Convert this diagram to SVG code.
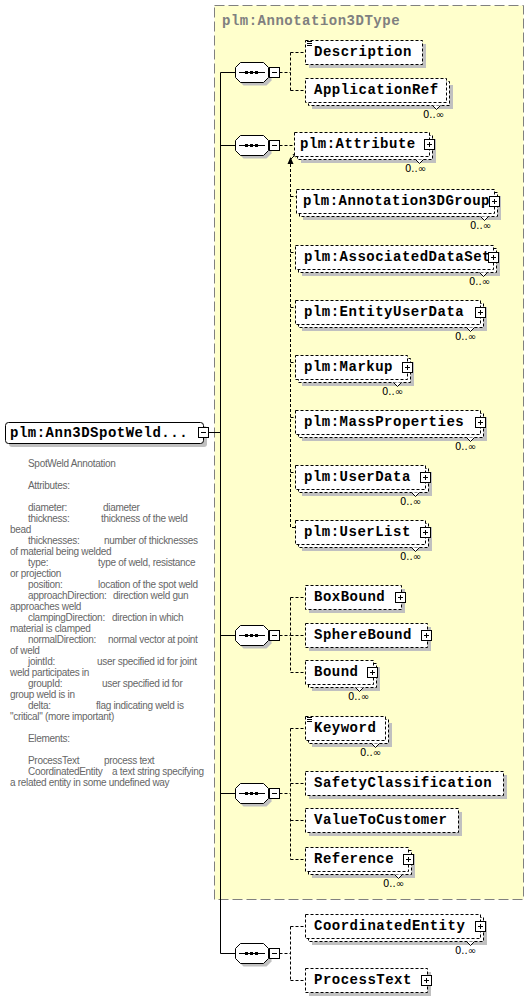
<svg xmlns="http://www.w3.org/2000/svg" xmlns:xlink="http://www.w3.org/1999/xlink" width="530" height="999" viewBox="0 0 530 999">
<style>
.bx{fill:#fff;stroke:#000;stroke-width:1;stroke-dasharray:3,2}
.sh{fill:#c0c0c0}
.dc{fill:none;stroke:#000;stroke-width:1;stroke-dasharray:3,2}
.sl{fill:none;stroke:#000;stroke-width:1}
.lbl{font-family:"Liberation Mono","DejaVu Sans Mono",monospace;font-weight:bold;font-size:14px;letter-spacing:0.5px;fill:#000}
.ttl{font-family:"Liberation Mono","DejaVu Sans Mono",monospace;font-weight:bold;font-size:14px;letter-spacing:0.5px;fill:#808080}
.occ{font-family:"DejaVu Sans","Liberation Sans",sans-serif;font-size:10px;fill:#000;text-anchor:end}
.ann{font-family:"Liberation Sans",Arial,sans-serif;font-size:10px;fill:#666;letter-spacing:-0.3px}
.notch{fill:#fff;stroke:#000;stroke-width:1}
</style>
<defs>
<g id="plus"><rect x="-4.5" y="-4.5" width="10" height="10" fill="#fff" stroke="#000"/><path d="M-2,0.5H3M0.5,-2V3" stroke="#000" fill="none"/></g>
<g id="minus"><rect x="-4.5" y="-4.5" width="10" height="10" fill="#fff" stroke="#000"/><path d="M-2,0.5H3" stroke="#000" fill="none"/></g>
<g id="seq">
<path d="M243.5,-6.5H266.5L271.5,-1.5V8.5L266.5,13.5H243.5L238.5,8.5V-1.5Z" class="sh"/>
<path d="M240.5,-9.5H263.5L268.5,-4.5V5.5L263.5,10.5H240.5L235.5,5.5V-4.5Z" fill="#fff" stroke="#000"/>
<path d="M239,0.5H265" stroke="#000"/>
<rect x="245" y="-1" width="3" height="3" fill="#000"/>
<rect x="250" y="-1" width="3" height="3" fill="#000"/>
<rect x="255" y="-1" width="3" height="3" fill="#000"/>
<use xlink:href="#minus" x="274" y="0"/>
</g>
<g id="doc"><path d="M307,41.5H312M307,43.5H312M307,45.5H312" stroke="#000" fill="none"/></g>
</defs>

<g id="complexType">
<rect x="214.5" y="5.5" width="309" height="894" fill="#FFFFCC" stroke="#808080" stroke-dasharray="10,4"/>
<text class="ttl" x="222" y="25">plm:Annotation3DType</text>
</g>

<g id="connectors">
<path class="sl" d="M208.5,432.5H220.5M220.5,72.5V953.5M220.5,72.5H235.5M220.5,145.5H235.5M220.5,635.5H235.5M220.5,793.5H235.5M220.5,953.5H235.5"/>
<path class="dc" d="M279.5,72.5H290.5M290.5,52.5V90.5M290.5,52.5H305.5M290.5,90.5H305.5"/>
<path class="dc" d="M279.5,145.5H294.5"/>
<path class="dc" d="M290.5,164V527.5H295.5M290.5,196.5H296.5M290.5,252.5H295.5M290.5,307.5H295.5M290.5,362.5H295.5M290.5,417.5H295.5M290.5,472.5H295.5"/>
<polygon points="290.5,157 287.5,164 293.5,164" fill="#000"/>
<path d="M291,159L295,155" stroke="#000" fill="none"/>
<polygon points="297,153 292.5,154.5 295.5,157.5" fill="#000"/>
<path class="dc" d="M279.5,635.5H290.5M290.5,597.5V672.5M290.5,597.5H305.5M290.5,635.5H305.5M290.5,672.5H305.5"/>
<path class="dc" d="M279.5,793.5H290.5M290.5,728.5V859.5M290.5,728.5H305.5M290.5,783.5H305.5M290.5,820.5H305.5M290.5,859.5H305.5"/>
<path class="dc" d="M279.5,953.5H290.5M290.5,926.5V980.5M290.5,926.5H305.5M290.5,980.5H305.5"/>
</g>

<g id="seq1"><use xlink:href="#seq" transform="translate(0,72)"/></g>
<g id="seq2"><use xlink:href="#seq" transform="translate(0,145)"/></g>
<g id="seq3"><use xlink:href="#seq" transform="translate(0,635)"/></g>
<g id="seq4"><use xlink:href="#seq" transform="translate(0,793)"/></g>
<g id="seq5"><use xlink:href="#seq" transform="translate(0,953)"/></g>

<g id="root">
<rect class="sh" x="9" y="426" width="198" height="21" rx="3"/>
<rect x="5.5" y="422.5" width="198" height="21" rx="3" fill="#fff" stroke="#000"/>
<text class="lbl" x="10" y="437">plm:Ann3DSpotWeld...</text>
<use xlink:href="#minus" x="203" y="432"/>
</g>

<g id="description">
<rect class="sh" x="309" y="44" width="117" height="24"/>
<rect class="bx" x="305.5" y="40.5" width="117" height="24"/>
<use xlink:href="#doc"/>
<text class="lbl" x="314" y="56">Description</text>
</g>

<g id="applicationRef">
<rect class="sh" x="312" y="85" width="141" height="24"/>
<rect class="bx" x="308.5" y="81.5" width="141" height="24"/>
<rect class="bx" x="305.5" y="78.5" width="141" height="24"/>
<polyline class="notch" points="432.5,105.5 436.5,109.5 440.5,105.5"/>
<text class="occ" x="444" y="118">0..∞</text>
<text class="lbl" x="314" y="94">ApplicationRef</text>
</g>

<g id="attribute">
<rect class="sh" x="301" y="139" width="135" height="24"/>
<rect class="bx" x="297.5" y="135.5" width="135" height="24"/>
<rect class="bx" x="294.5" y="132.5" width="135" height="24"/>
<polyline class="notch" points="415.5,159.5 419.5,163.5 423.5,159.5"/>
<text class="occ" x="426" y="172">0..∞</text>
<text class="lbl" x="300" y="148">plm:Attribute</text>
<use xlink:href="#plus" x="429" y="144"/>
</g>

<g id="annotation3DGroup">
<rect class="sh" x="303" y="196" width="198" height="24"/>
<rect class="bx" x="299.5" y="192.5" width="198" height="24"/>
<rect class="bx" x="296.5" y="189.5" width="198" height="24"/>
<polyline class="notch" points="480.5,216.5 484.5,220.5 488.5,216.5"/>
<text class="occ" x="491" y="229">0..∞</text>
<text class="lbl" x="303" y="205">plm:Annotation3DGroup</text>
<use xlink:href="#plus" x="494" y="201"/>
</g>

<g id="associatedDataSet">
<rect class="sh" x="302" y="252" width="198" height="24"/>
<rect class="bx" x="298.5" y="248.5" width="198" height="24"/>
<rect class="bx" x="295.5" y="245.5" width="198" height="24"/>
<polyline class="notch" points="479.5,272.5 483.5,276.5 487.5,272.5"/>
<text class="occ" x="490" y="285">0..∞</text>
<text class="lbl" x="304" y="261">plm:AssociatedDataSet</text>
<use xlink:href="#plus" x="493" y="257"/>
</g>

<g id="entityUserData">
<rect class="sh" x="302" y="307" width="185" height="24"/>
<rect class="bx" x="298.5" y="303.5" width="185" height="24"/>
<rect class="bx" x="295.5" y="300.5" width="185" height="24"/>
<polyline class="notch" points="466.5,327.5 470.5,331.5 474.5,327.5"/>
<text class="occ" x="476" y="340">0..∞</text>
<text class="lbl" x="304" y="316">plm:EntityUserData</text>
<use xlink:href="#plus" x="480" y="312"/>
</g>

<g id="markup">
<rect class="sh" x="302" y="362" width="112" height="24"/>
<rect class="bx" x="298.5" y="358.5" width="112" height="24"/>
<rect class="bx" x="295.5" y="355.5" width="112" height="24"/>
<polyline class="notch" points="393.5,382.5 397.5,386.5 401.5,382.5"/>
<text class="occ" x="403" y="395">0..∞</text>
<text class="lbl" x="304" y="371">plm:Markup</text>
<use xlink:href="#plus" x="407" y="367"/>
</g>

<g id="massProperties">
<rect class="sh" x="302" y="417" width="185" height="24"/>
<rect class="bx" x="298.5" y="413.5" width="185" height="24"/>
<rect class="bx" x="295.5" y="410.5" width="185" height="24"/>
<polyline class="notch" points="466.5,437.5 470.5,441.5 474.5,437.5"/>
<text class="occ" x="476" y="450">0..∞</text>
<text class="lbl" x="304" y="426">plm:MassProperties</text>
<use xlink:href="#plus" x="480" y="422"/>
</g>

<g id="userData">
<rect class="sh" x="302" y="472" width="130" height="24"/>
<rect class="bx" x="298.5" y="468.5" width="130" height="24"/>
<rect class="bx" x="295.5" y="465.5" width="130" height="24"/>
<polyline class="notch" points="411.5,492.5 415.5,496.5 419.5,492.5"/>
<text class="occ" x="421" y="505">0..∞</text>
<text class="lbl" x="304" y="481">plm:UserData</text>
<use xlink:href="#plus" x="425" y="477"/>
</g>

<g id="userList">
<rect class="sh" x="302" y="527" width="130" height="24"/>
<rect class="bx" x="298.5" y="523.5" width="130" height="24"/>
<rect class="bx" x="295.5" y="520.5" width="130" height="24"/>
<polyline class="notch" points="411.5,547.5 415.5,551.5 419.5,547.5"/>
<text class="occ" x="421" y="560">0..∞</text>
<text class="lbl" x="304" y="536">plm:UserList</text>
<use xlink:href="#plus" x="425" y="532"/>
</g>

<g id="boxBound">
<rect class="sh" x="309" y="589" width="96" height="24"/>
<rect class="bx" x="305.5" y="585.5" width="96" height="24"/>
<text class="lbl" x="314" y="601">BoxBound</text>
<use xlink:href="#plus" x="400" y="597"/>
</g>

<g id="sphereBound">
<rect class="sh" x="309" y="627" width="122" height="24"/>
<rect class="bx" x="305.5" y="623.5" width="122" height="24"/>
<text class="lbl" x="314" y="639">SphereBound</text>
<use xlink:href="#plus" x="426" y="635"/>
</g>

<g id="bound">
<rect class="sh" x="312" y="667" width="68" height="24"/>
<rect class="bx" x="308.5" y="663.5" width="68" height="24"/>
<rect class="bx" x="305.5" y="660.5" width="68" height="24"/>
<polyline class="notch" points="355.5,687.5 359.5,691.5 363.5,687.5"/>
<text class="occ" x="369" y="700">0..∞</text>
<text class="lbl" x="314" y="676">Bound</text>
<use xlink:href="#plus" x="372" y="672"/>
</g>

<g id="keyword">
<rect class="sh" x="312" y="723" width="80" height="24"/>
<rect class="bx" x="308.5" y="719.5" width="80" height="24"/>
<rect class="bx" x="305.5" y="716.5" width="80" height="24"/>
<polyline class="notch" points="371.5,743.5 375.5,747.5 379.5,743.5"/>
<text class="occ" x="381" y="756">0..∞</text>
<use xlink:href="#doc" transform="translate(0,676)"/>
<text class="lbl" x="314" y="732">Keyword</text>
</g>

<g id="safetyClassification">
<rect class="sh" x="309" y="775" width="198" height="24"/>
<rect class="bx" x="305.5" y="771.5" width="198" height="24"/>
<text class="lbl" x="314" y="787">SafetyClassification</text>
</g>

<g id="valueToCustomer">
<rect class="sh" x="309" y="812" width="153" height="24"/>
<rect class="bx" x="305.5" y="808.5" width="153" height="24"/>
<text class="lbl" x="314" y="824">ValueToCustomer</text>
</g>

<g id="reference">
<rect class="sh" x="312" y="854" width="103" height="24"/>
<rect class="bx" x="308.5" y="850.5" width="103" height="24"/>
<rect class="bx" x="305.5" y="847.5" width="103" height="24"/>
<polyline class="notch" points="394.5,874.5 398.5,878.5 402.5,874.5"/>
<text class="occ" x="404" y="887">0..∞</text>
<text class="lbl" x="314" y="863">Reference</text>
<use xlink:href="#plus" x="408" y="859"/>
</g>

<g id="coordinatedEntity">
<rect class="sh" x="312" y="921" width="175" height="24"/>
<rect class="bx" x="308.5" y="917.5" width="175" height="24"/>
<rect class="bx" x="305.5" y="914.5" width="175" height="24"/>
<polyline class="notch" points="466.5,941.5 470.5,945.5 474.5,941.5"/>
<text class="occ" x="476" y="954">0..∞</text>
<text class="lbl" x="314" y="930">CoordinatedEntity</text>
<use xlink:href="#plus" x="480" y="926"/>
</g>

<g id="processText">
<rect class="sh" x="309" y="972" width="122" height="24"/>
<rect class="bx" x="305.5" y="968.5" width="122" height="24"/>
<text class="lbl" x="314" y="984">ProcessText</text>
<use xlink:href="#plus" x="426" y="980"/>
</g>

<g id="annotation">
<text class="ann" x="28" y="467">SpotWeld Annotation</text>
<text class="ann" x="28" y="489">Attributes:</text>
<text class="ann" x="28" y="511">diameter:</text><text class="ann" x="103" y="511">diameter</text>
<text class="ann" x="28" y="522">thickness:</text><text class="ann" x="101" y="522">thickness of the weld</text>
<text class="ann" x="10" y="533">bead</text>
<text class="ann" x="28" y="544">thicknesses:</text><text class="ann" x="104" y="544">number of thicknesses</text>
<text class="ann" x="10" y="555">of material being welded</text>
<text class="ann" x="28" y="566">type:</text><text class="ann" x="98" y="566">type of weld, resistance</text>
<text class="ann" x="10" y="577">or projection</text>
<text class="ann" x="28" y="588">position:</text><text class="ann" x="98" y="588">location of the spot weld</text>
<text class="ann" x="28" y="599">approachDirection:</text><text class="ann" x="113" y="599">direction weld gun</text>
<text class="ann" x="10" y="610">approaches weld</text>
<text class="ann" x="28" y="621">clampingDirection:</text><text class="ann" x="112" y="621">direction in which</text>
<text class="ann" x="10" y="632">material is clamped</text>
<text class="ann" x="28" y="643">normalDirection:</text><text class="ann" x="108" y="643">normal vector at point</text>
<text class="ann" x="10" y="654">of weld</text>
<text class="ann" x="28" y="665">jointId:</text><text class="ann" x="97" y="665">user specified id for joint</text>
<text class="ann" x="10" y="676">weld participates in</text>
<text class="ann" x="28" y="687">groupId:</text><text class="ann" x="102" y="687">user specified id for</text>
<text class="ann" x="10" y="698">group weld is in</text>
<text class="ann" x="28" y="709">delta:</text><text class="ann" x="96" y="709">flag indicating weld is</text>
<text class="ann" x="10" y="720">"critical" (more important)</text>
<text class="ann" x="28" y="742">Elements:</text>
<text class="ann" x="28" y="764">ProcessText</text><text class="ann" x="104" y="764">process text</text>
<text class="ann" x="28" y="775">CoordinatedEntity</text><text class="ann" x="112" y="775">a text string specifying</text>
<text class="ann" x="10" y="786">a related entity in some undefined way</text>
</g>
</svg>
